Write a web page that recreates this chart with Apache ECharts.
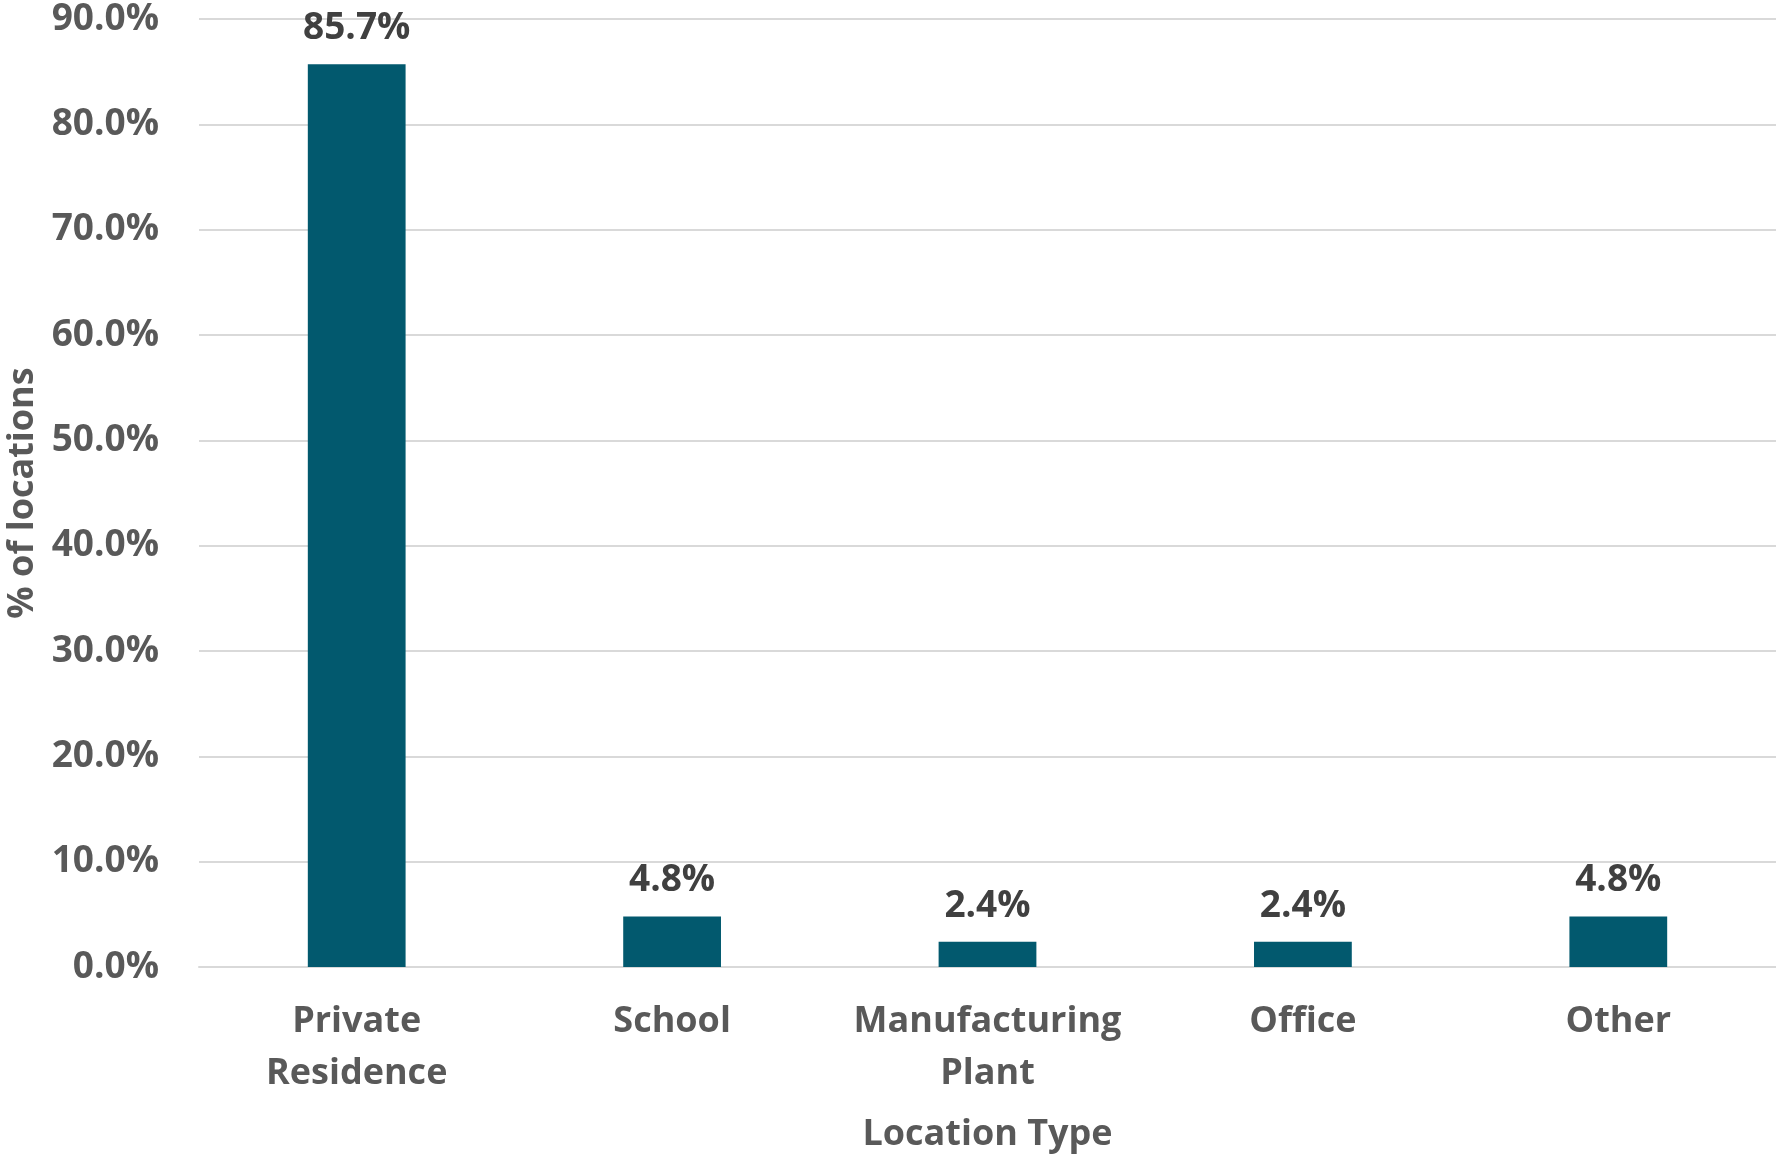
<!DOCTYPE html>
<html>
<head>
<meta charset="utf-8">
<script src="https://cdn.jsdelivr.net/npm/echarts@6/dist/echarts.min.js"></script>
<style>
html,body{margin:0;padding:0;background:#fff;}
#chart{width:1776px;height:1155px;}
</style>
</head>
<body>
<div id="chart"></div>
<script>
const categories = ['Private\nResidence', 'School', 'Manufacturing\nPlant', 'Office', 'Other'];
const values = [85.7, 4.8, 2.4, 2.4, 4.8];
const yTicks = { min: 0, max: 90, interval: 10 };

const FONT = '"Open Sans", "Noto Sans", sans-serif';
const chart = echarts.init(document.getElementById('chart'), null, { renderer: 'canvas' });
chart.setOption({
  backgroundColor: '#ffffff',
  animation: false,
  grid: { left: 199, right: 0, top: 19, bottom: 188, containLabel: false, outerBoundsMode: 'none' },
  xAxis: {
    type: 'category',
    data: categories,
    name: 'Location Type',
    nameLocation: 'middle',
    nameGap: 150,
    nameTextStyle: { color: '#595959', fontFamily: FONT, fontWeight: 'bold', fontSize: 36 },
    axisLine: { show: true, lineStyle: { color: '#d9d9d9', width: 2 } },
    axisTick: { show: false },
    axisLabel: { color: '#595959', fontFamily: FONT, fontWeight: 'bold', fontSize: 36, lineHeight: 52, margin: 29, interval: 0 }
  },
  yAxis: {
    type: 'value',
    min: yTicks.min, max: yTicks.max, interval: yTicks.interval,
    name: '% of locations',
    nameLocation: 'middle',
    nameGap: 157,
    nameTextStyle: { color: '#595959', fontFamily: FONT, fontWeight: 'bold', fontSize: 36 },
    axisLine: { show: false },
    axisTick: { show: false },
    splitLine: { lineStyle: { color: '#d9d9d9', width: 2 } },
    axisLabel: { color: '#595959', fontFamily: FONT, fontWeight: 'bold', fontSize: 37, margin: 40,
      formatter: v => v.toFixed(1) + '%' }
  },
  series: [{
    type: 'bar',
    data: values,
    barWidth: '31%',
    itemStyle: { color: '#02596E' },
    label: { show: true, position: 'top', distance: 17, color: '#404040', fontFamily: FONT, fontWeight: 'bold', fontSize: 37,
      formatter: p => p.value.toFixed(1) + '%' }
  }]
});
</script>
</body>
</html>
